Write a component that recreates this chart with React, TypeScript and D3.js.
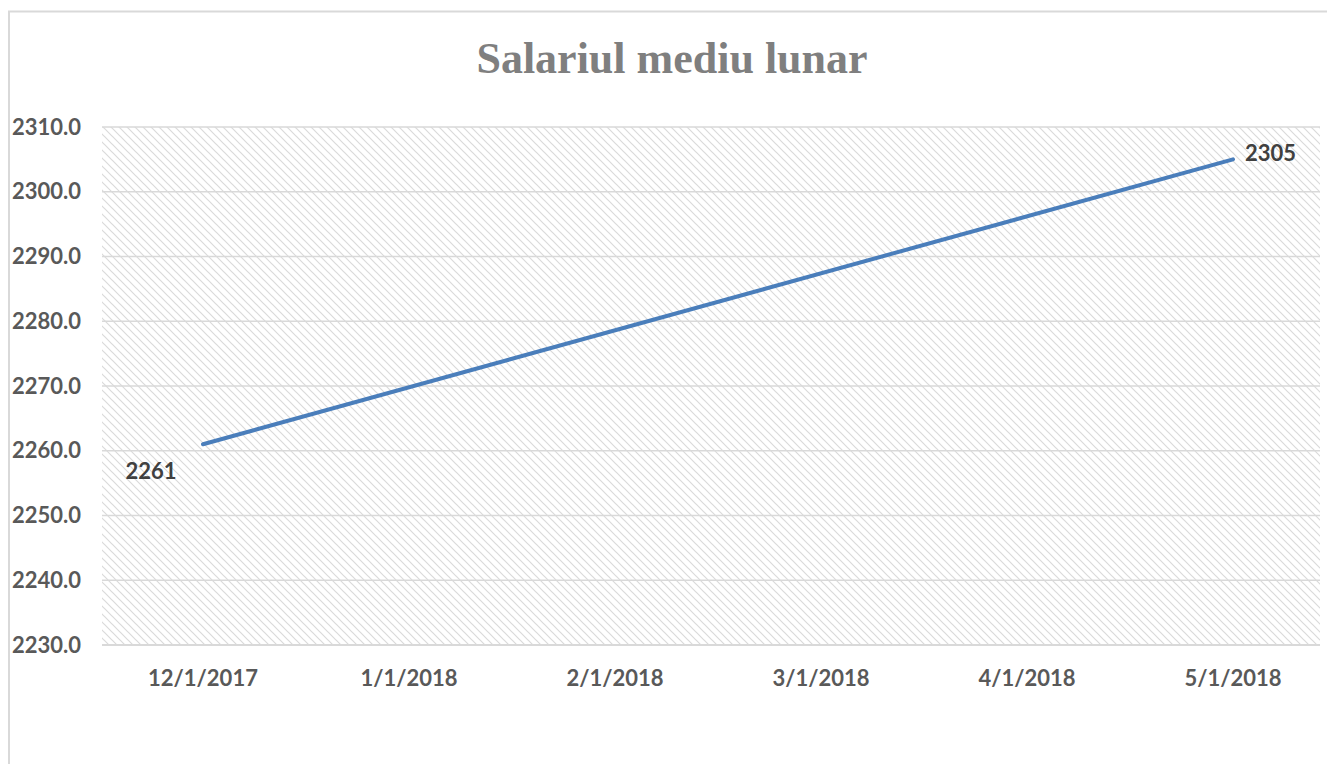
import React from "react";
import * as d3 from "d3";

const title = "Salariul mediu lunar";
const categories = ["12/1/2017", "1/1/2018", "2/1/2018", "3/1/2018", "4/1/2018", "5/1/2018"];
const pointDates = ["12/1/2017", "5/1/2018"];
const pointValues = [2261, 2305];
const yTicks = [2230, 2240, 2250, 2260, 2270, 2280, 2290, 2300, 2310];

const W = 1327;
const H = 764;
const plot = { left: 102, right: 1320, top: 127, bottom: 645 };

export default function App() {
  const x = d3.scalePoint<string>().domain(categories).range([203, 1233]);
  const y = d3.scaleLinear().domain([2230, 2310]).range([plot.bottom, plot.top]);
  const line = d3
    .line<number>()
    .x((_, i) => x(pointDates[i]) as number)
    .y((d) => y(d));
  const labelFont = "Lato, 'Open Sans', sans-serif";
  return (
    <svg
      width={W}
      height={H}
      style={{ position: "absolute", left: 0, top: 0, background: "#fff" }}
    >
      <defs>
        <pattern id="hatch" width={8} height={8} patternUnits="userSpaceOnUse">
          <path d="M-2,-2 L10,10 M-2,6 L2,10 M6,-2 L10,2" stroke="#dadada" strokeWidth={1.2} />
        </pattern>
      </defs>
      <rect x={0} y={0} width={W} height={H} fill="#fff" />
      <path d={`M9,${H + 5} L9,11.5 L${W + 5},11.5`} fill="none" stroke="#d9d9d9" strokeWidth={2} />
      <text
        x={672}
        y={73}
        textAnchor="middle"
        fontFamily="'Liberation Serif', 'DejaVu Serif', serif"
        fontWeight="bold"
        fontSize={44}
        fill="#7f7f7f"
      >
        {title}
      </text>
      <rect
        x={plot.left}
        y={plot.top}
        width={plot.right - plot.left}
        height={plot.bottom - plot.top}
        fill="url(#hatch)"
      />
      {yTicks.map((t) => (
        <g key={t}>
          {t !== 2230 && (
            <line x1={plot.left} x2={plot.right} y1={y(t)} y2={y(t)} stroke="#d9d9d9" strokeWidth={1.3} />
          )}
          <text
            x={81}
            y={y(t) + 7.5}
            textAnchor="end"
            fontFamily={labelFont}
            fontWeight="bold"
            fontSize={22}
            fill="#595959"
          >
            {t.toFixed(1)}
          </text>
        </g>
      ))}
      <line x1={plot.left} x2={plot.right} y1={plot.bottom} y2={plot.bottom} stroke="#d9d9d9" strokeWidth={2} />
      {categories.map((c) => (
        <text
          key={c}
          x={x(c)}
          y={686}
          textAnchor="middle"
          fontFamily={labelFont}
          fontWeight="bold"
          fontSize={22}
          fill="#595959"
        >
          {c}
        </text>
      ))}
      <path d={line(pointValues) || ""} fill="none" stroke="#4a7ebb" strokeWidth={4} strokeLinecap="round" />
      <text
        x={(x(pointDates[0]) as number) - 52}
        y={y(pointValues[0]) + 35}
        textAnchor="middle"
        fontFamily={labelFont}
        fontWeight="bold"
        fontSize={22}
        fill="#404040"
      >
        {pointValues[0]}
      </text>
      <text
        x={(x(pointDates[1]) as number) + 12}
        y={y(pointValues[1]) + 2}
        textAnchor="start"
        fontFamily={labelFont}
        fontWeight="bold"
        fontSize={22}
        fill="#404040"
      >
        {pointValues[1]}
      </text>
    </svg>
  );
}
